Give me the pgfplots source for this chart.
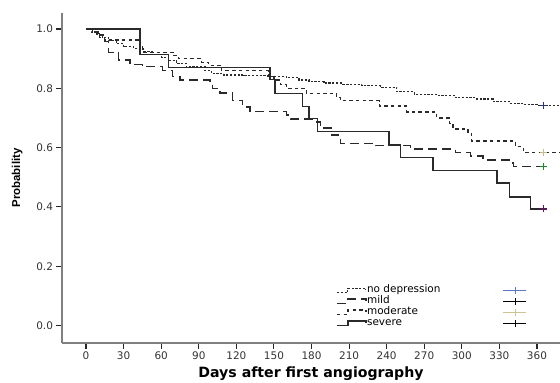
\documentclass[border=0pt]{standalone}
\usepackage{fontspec}
\setmainfont{DejaVu Sans}
\newfontfamily\libsans{Liberation Sans}
\usepackage{pgfplots}
\pgfplotsset{compat=1.18}
\definecolor{axgray}{HTML}{808080}
\definecolor{curve}{HTML}{2A2A2A}
\definecolor{cblue}{HTML}{24348A}
\definecolor{ctan}{HTML}{C8BC8C}
\definecolor{cgreen}{HTML}{1A8A2A}
\definecolor{cpurple}{HTML}{5A1A5A}
\definecolor{lblue}{HTML}{5A78C0}
\definecolor{ltan}{HTML}{CCC490}
\tikzset{
  nodep/.style={curve, line width=1.1bp, dash pattern=on 2.2bp off 1.6bp},
  mildst/.style={curve, line width=1.3bp, dash pattern=on 9bp off 5bp},
  modst/.style={curve, line width=1.2bp, dash pattern=on 3.5bp off 3.2bp},
  sevst/.style={curve, line width=1.4bp},
}
\begin{document}
\begin{tikzpicture}
\begin{axis}[
  at={(0,0)}, anchor=south west,
  scale only axis, width=498bp, height=330bp,
  xmin=-19.2, xmax=378.4, ymin=-0.059, ymax=1.054,
  axis x line*=bottom, axis y line*=left,
  axis line style={draw=axgray, line width=1.5bp, -},
  xtick={0,30,60,90,120,150,180,210,240,270,300,330,360},
  ytick={0,0.2,0.4,0.6,0.8,1.0},
  tick align=outside, major tick length=5.5bp,
  tick style={black!85, line width=1.1bp},
  yticklabel style={/pgf/number format/.cd, fixed, fixed zerofill, precision=1},
  /pgf/number format/assume math mode=true,
  ticklabel style={font=\fontsize{10.5}{11}\selectfont, text=black!80},
  xlabel={Days after first angiography},
  xlabel style={at={(axis description cs:0.5,0)}, anchor=base, yshift=-34.5bp,
    font=\fontsize{14.2}{15}\selectfont\bfseries},
  ylabel={Probability},
  ylabel style={at={(axis description cs:-0.0843,0.5)}, anchor=base,
    font=\fontsize{11.5}{12}\selectfont\libsans\bfseries},
  legend columns=2,
  legend cell align=left,
  legend style={draw=none, fill=none, at={(axis description cs:0.5502,0.177)}, anchor=north west,
    inner sep=0pt, font=\fontsize{10.5}{11}\selectfont, row sep=0pt,
    nodes={inner sep=0.5bp, text height=7.5bp, text depth=2.5bp},
    /tikz/every even column/.append style={column sep=62bp}},
]
% no depression
\addplot[nodep, const plot, forget plot] coordinates {
(0,1.000)(4,0.990)(8,0.980)(13,0.970)(18,0.960)(24,0.950)(30,0.940)(38,0.935)
(46,0.925)(53,0.915)(60,0.905)(66,0.895)(72,0.885)(80,0.872)(95,0.860)(100,0.850)
(110,0.845)(125,0.842)(145,0.840)(160,0.835)(170,0.828)(178,0.822)(190,0.818)
(205,0.814)(220,0.808)(235,0.804)(248,0.788)(262,0.780)(280,0.776)(295,0.768)
(312,0.764)(325,0.756)(338,0.750)(350,0.746)(360,0.742)(378.4,0.742)};
% mild
\addplot[mildst, const plot, forget plot] coordinates {
(0,1.000)(6,0.985)(11,0.972)(15,0.957)(18,0.921)(26,0.895)(35,0.880)(45,0.873)
(61,0.860)(69,0.840)(75,0.828)(99,0.818)(101,0.800)(107,0.784)(117,0.760)(125,0.737)
(131,0.721)(160,0.710)(163,0.696)(184,0.686)(187,0.666)(196,0.643)(203,0.615)
(231,0.606)(259,0.595)(295,0.583)(307,0.572)(317,0.558)(338,0.548)(341,0.536)(365,0.536)};
% moderate
\addplot[modst, const plot, forget plot] coordinates {
(0,1.000)(5,0.990)(10,0.980)(15,0.963)(43,0.945)(45,0.922)(70,0.910)(74,0.900)
(92,0.888)(98,0.878)(108,0.860)(146,0.845)(150,0.828)(155,0.812)(160,0.800)(176,0.783)
(200,0.770)(203,0.758)(234,0.740)(256,0.720)(280,0.700)(290,0.682)(293,0.663)
(305,0.648)(308,0.622)(343,0.603)(349,0.583)(378.4,0.583)};
% severe
\addplot[sevst, const plot, forget plot] coordinates {
(0,1.000)(43,0.915)(66,0.871)(147,0.830)(151,0.783)(173,0.738)(178,0.699)(185,0.655)
(242,0.609)(251,0.567)(277,0.522)(328,0.480)(338,0.434)(355,0.393)(365,0.393)};
% censor marks
\addplot[only marks, mark=+, mark size=3.5bp, cblue, line width=1.4bp, forget plot] coordinates {(365,0.742)};
\addplot[only marks, mark=+, mark size=3.5bp, cgreen, line width=1.4bp, forget plot] coordinates {(365,0.536)};
\addplot[only marks, mark=+, mark size=3.5bp, ctan, line width=1.4bp, forget plot] coordinates {(365,0.583)};
\addplot[only marks, mark=+, mark size=3.5bp, cpurple, line width=1.4bp, forget plot] coordinates {(365,0.393)};
% legend
\addlegendimage{legend image code/.code={\draw[nodep] (0bp,-2.2bp) -- (11bp,-2.2bp) -- (11bp,2.2bp) -- (29bp,2.2bp) -- (29bp,0bp);}}
\addlegendentry{no depression}
\addlegendimage{legend image code/.code={\draw[lblue, line width=0.9bp] (0bp,0bp) -- (23bp,0bp); \draw[lblue, line width=0.9bp] (11.5bp,-3.5bp) -- (11.5bp,3.5bp);}}
\addlegendentry{\phantom{x}}
\addlegendimage{legend image code/.code={\draw[mildst] (0bp,-2.2bp) -- (11bp,-2.2bp) -- (11bp,2.2bp) -- (29bp,2.2bp) -- (29bp,0bp);}}
\addlegendentry{mild}
\addlegendimage{legend image code/.code={\draw[black, line width=0.9bp] (0bp,0bp) -- (23bp,0bp); \draw[black, line width=0.9bp] (11.5bp,-3.5bp) -- (11.5bp,3.5bp);}}
\addlegendentry{\phantom{x}}
\addlegendimage{legend image code/.code={\draw[modst] (0bp,-2.2bp) -- (11bp,-2.2bp) -- (11bp,2.2bp) -- (29bp,2.2bp) -- (29bp,0bp);}}
\addlegendentry{moderate}
\addlegendimage{legend image code/.code={\draw[ltan, line width=0.9bp] (0bp,0bp) -- (23bp,0bp); \draw[ltan, line width=0.9bp] (11.5bp,-3.5bp) -- (11.5bp,3.5bp);}}
\addlegendentry{\phantom{x}}
\addlegendimage{legend image code/.code={\draw[sevst] (0bp,-2.2bp) -- (11bp,-2.2bp) -- (11bp,2.2bp) -- (29bp,2.2bp) -- (29bp,0bp);}}
\addlegendentry{severe}
\addlegendimage{legend image code/.code={\draw[black, line width=0.9bp] (0bp,0bp) -- (23bp,0bp); \draw[black, line width=0.9bp] (11.5bp,-3.5bp) -- (11.5bp,3.5bp);}}
\addlegendentry{\phantom{x}}
\end{axis}
\pgfresetboundingbox
\path[use as bounding box] (-62bp,-40bp) rectangle (498bp,343bp);
\end{tikzpicture}
\end{document}
